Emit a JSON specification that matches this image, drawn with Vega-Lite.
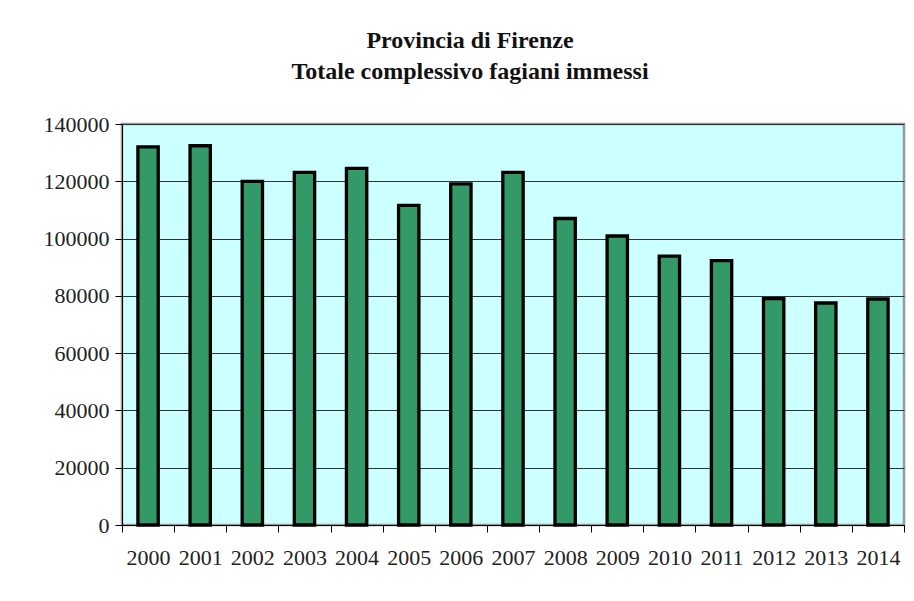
{
  "$schema": "https://vega.github.io/schema/vega-lite/v6.json",
  "width": 782,
  "height": 401,
  "autosize": {"type": "none"},
  "padding": {"left": 122, "top": 124, "right": 10, "bottom": 76},
  "background": "white",
  "title": {
    "text": ["Provincia di Firenze", "Totale complessivo fagiani immessi"],
    "anchor": "middle",
    "frame": "group",
    "font": "Liberation Serif",
    "fontSize": 24,
    "fontWeight": "bold",
    "color": "#111111",
    "lineHeight": 31,
    "offset": 29,
    "dx": -43
  },
  "config": {
    "view": {"fill": "#CCFFFF", "stroke": "#999999", "strokeWidth": 2.5}
  },
  "data": {
    "values": [
      {"year": "2000", "value": 132000},
      {"year": "2001", "value": 132400},
      {"year": "2002", "value": 120000},
      {"year": "2003", "value": 123100},
      {"year": "2004", "value": 124500},
      {"year": "2005", "value": 111600},
      {"year": "2006", "value": 119100},
      {"year": "2007", "value": 123100},
      {"year": "2008", "value": 107000},
      {"year": "2009", "value": 100900},
      {"year": "2010", "value": 93900},
      {"year": "2011", "value": 92300},
      {"year": "2012", "value": 79000},
      {"year": "2013", "value": 77500},
      {"year": "2014", "value": 78900}
    ]
  },
  "mark": {
    "type": "bar",
    "fill": "#339966",
    "stroke": "#000000",
    "strokeWidth": 3.3,
    "width": {"band": 0.39}
  },
  "encoding": {
    "x": {
      "field": "year",
      "type": "ordinal",
      "scale": {"paddingInner": 0, "paddingOuter": 0},
      "axis": {
        "title": null,
        "labelAngle": 0,
        "tickBand": "extent",
        "tickSize": 7,
        "tickColor": "#000000",
        "domainColor": "#000000",
        "domainWidth": 1,
        "labelFont": "Liberation Serif",
        "labelFontSize": 22,
        "labelColor": "#222222",
        "labelPadding": 15
      }
    },
    "y": {
      "field": "value",
      "type": "quantitative",
      "scale": {"domain": [0, 140000], "nice": false},
      "axis": {
        "title": null,
        "values": [0, 20000, 40000, 60000, 80000, 100000, 120000, 140000],
        "format": "d",
        "grid": true,
        "gridColor": "#333333",
        "gridOpacity": 1,
        "gridWidth": 1,
        "tickSize": 7,
        "tickColor": "#000000",
        "domainColor": "#000000",
        "labelFont": "Liberation Serif",
        "labelFontSize": 22,
        "labelColor": "#222222",
        "labelPadding": 6
      }
    }
  }
}
